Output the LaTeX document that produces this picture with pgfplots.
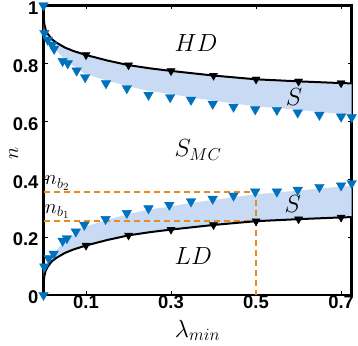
\documentclass[border=0pt]{standalone}
\usepackage{fontspec}
\usepackage{pgfplots}
\pgfplotsset{compat=1.18}
\newfontfamily\tickfont{Liberation Sans}
\definecolor{mblue}{rgb}{0,0.447,0.741}
\definecolor{shade}{RGB}{201,219,244}
\definecolor{morange}{RGB}{232,140,30}
\newcommand{\bigf}{\fontsize{23}{23}\selectfont}
\begin{document}
\begin{tikzpicture}
\begin{axis}[scale only axis, width=308.2bp, height=289.5bp,
    xmin=0, xmax=0.725, ymin=0, ymax=1, clip=false,
    xtick={0.1,0.3,0.5,0.7}, ytick={0,0.2,0.4,0.6,0.8,1},
    tick align=inside, major tick length=4bp,
    tick style={black, line width=1bp},
    axis line style={line width=2.5bp},
    /pgf/number format/assume math mode=true,
    tick label style={font=\tickfont\bfseries\fontsize{18.5}{18.5}\selectfont},
    yticklabel style={yshift=-2.5bp, xshift=-1.5bp},
    xticklabel style={yshift=2.5bp},
    xlabel={$\lambda_{min}$}, ylabel={$n$},
    xlabel style={font=\fontsize{25}{25}\selectfont, at={(axis description cs:0.5,-0.122)}, anchor=center},
    ylabel style={font=\fontsize{22}{22}\selectfont, inner sep=0pt, at={(axis description cs:-0.097,0.49)}, anchor=center}]
% shaded bands
\addplot[draw=none, fill=shade] coordinates {
 (0,0) (0.0005,0.045) (0.002,0.065) (0.005,0.083) (0.01,0.098) (0.02,0.117) (0.03,0.128)
 (0.05,0.145) (0.07,0.157) (0.1,0.171) (0.15,0.190) (0.2,0.206) (0.25,0.217) (0.3,0.226)
 (0.4,0.242) (0.5,0.255) (0.6,0.262) (0.7,0.268) (0.725,0.269)
 (0.725,0.378) (0.7,0.374) (0.649,0.368) (0.598,0.360) (0.549,0.354) (0.498,0.348)
 (0.447,0.338) (0.398,0.328) (0.347,0.318) (0.296,0.305) (0.247,0.295) (0.196,0.278)
 (0.146,0.258) (0.096,0.235) (0.076,0.214) (0.055,0.192) (0.045,0.18) (0.024,0.142)
 (0.012,0.122) (0.002,0.095) (0,0.085)} -- cycle;
\addplot[draw=none, fill=shade] coordinates {
 (0,1) (0.0005,0.955) (0.002,0.935) (0.005,0.917) (0.01,0.902) (0.02,0.883) (0.03,0.872)
 (0.05,0.855) (0.07,0.843) (0.1,0.829) (0.15,0.810) (0.2,0.794) (0.25,0.783) (0.3,0.774)
 (0.4,0.758) (0.5,0.745) (0.6,0.738) (0.7,0.732) (0.725,0.731)
 (0.725,0.622) (0.7,0.626) (0.649,0.632) (0.598,0.640) (0.549,0.646) (0.498,0.652)
 (0.447,0.662) (0.398,0.672) (0.347,0.682) (0.296,0.695) (0.247,0.705) (0.196,0.722)
 (0.146,0.742) (0.096,0.765) (0.076,0.786) (0.055,0.808) (0.045,0.82) (0.024,0.858)
 (0.012,0.878) (0.002,0.905) (0,0.915)} -- cycle;
% dashed guides
\addplot[morange, line width=1.5bp, dash pattern=on 6bp off 4bp] coordinates {(0,0.355) (0.5,0.355) (0.5,0)};
\addplot[morange, line width=1.5bp, dash pattern=on 6bp off 4bp] coordinates {(0,0.255) (0.5,0.255)};
% black boundaries
\addplot[black, line width=2bp] coordinates {
 (0,0) (0.0005,0.045) (0.002,0.065) (0.005,0.083) (0.01,0.098) (0.02,0.117) (0.03,0.128)
 (0.05,0.145) (0.07,0.157) (0.1,0.171) (0.15,0.190) (0.2,0.206) (0.25,0.217) (0.3,0.226)
 (0.4,0.242) (0.5,0.255) (0.6,0.262) (0.7,0.268) (0.725,0.269)};
\addplot[black, line width=2bp] coordinates {
 (0,1) (0.0005,0.955) (0.002,0.935) (0.005,0.917) (0.01,0.902) (0.02,0.883) (0.03,0.872)
 (0.05,0.855) (0.07,0.843) (0.1,0.829) (0.15,0.810) (0.2,0.794) (0.25,0.783) (0.3,0.774)
 (0.4,0.758) (0.5,0.745) (0.6,0.738) (0.7,0.732) (0.725,0.731)};
\addplot[only marks, mark=triangle*, mark size=4.7bp, mark options={rotate=180, fill=black, draw=black}] coordinates {
 (0.1,0.171) (0.2,0.206) (0.3,0.226) (0.4,0.242) (0.5,0.255) (0.6,0.262) (0.7,0.268)
 (0.1,0.829) (0.2,0.794) (0.3,0.774) (0.4,0.758) (0.5,0.745) (0.6,0.738) (0.7,0.732)};
% simulation points
\addplot[only marks, mark=triangle*, mark size=5.5bp, mark options={rotate=180, fill=mblue, draw=mblue}] coordinates {
 (0,1) (0.002,0.905) (0.01,0.881) (0.02,0.864) (0.025,0.850) (0.045,0.808) (0.057,0.800)
 (0.078,0.775) (0.098,0.752) (0.147,0.731) (0.196,0.714) (0.247,0.691) (0.298,0.683)
 (0.347,0.674) (0.398,0.660) (0.447,0.650) (0.498,0.641) (0.549,0.639) (0.598,0.630)
 (0.649,0.622) (0.70,0.616) (0.725,0.614)};
\addplot[only marks, mark=triangle*, mark size=5.5bp, mark options={rotate=180, fill=mblue, draw=mblue}] coordinates {
 (0,0) (0.002,0.098) (0.012,0.127) (0.024,0.142) (0.045,0.187) (0.055,0.196) (0.076,0.219)
 (0.096,0.242) (0.146,0.262) (0.196,0.283) (0.247,0.299) (0.296,0.311) (0.347,0.323)
 (0.398,0.332) (0.447,0.343) (0.498,0.357) (0.549,0.357) (0.598,0.363) (0.649,0.373)
 (0.70,0.378) (0.725,0.386)};
% region labels
\node[anchor=base west, font=\bigf] at (axis cs:0.30,0.840) {$HD$};
\node[anchor=base west, font=\bigf] at (axis cs:0.30,0.478) {$S_{MC}$};
\node[anchor=base west, font=\bigf] at (axis cs:0.30,0.104) {$LD$};
\node[anchor=base west, font=\bigf] at (axis cs:0.562,0.653) {$S$};
\node[anchor=base west, font=\bigf] at (axis cs:0.559,0.284) {$S$};
\node[anchor=base west, inner sep=0pt, font=\fontsize{21}{21}\selectfont] at (axis cs:0.003,0.38) {$n_{b_2}$};
\node[anchor=base west, inner sep=0pt, font=\fontsize{21}{21}\selectfont] at (axis cs:0.003,0.282) {$n_{b_1}$};
\end{axis}
\pgfresetboundingbox
\useasboundingbox (current axis.south west) ++(-43.5bp,-51bp) rectangle ++(358bp,346bp);
\end{tikzpicture}
\end{document}
